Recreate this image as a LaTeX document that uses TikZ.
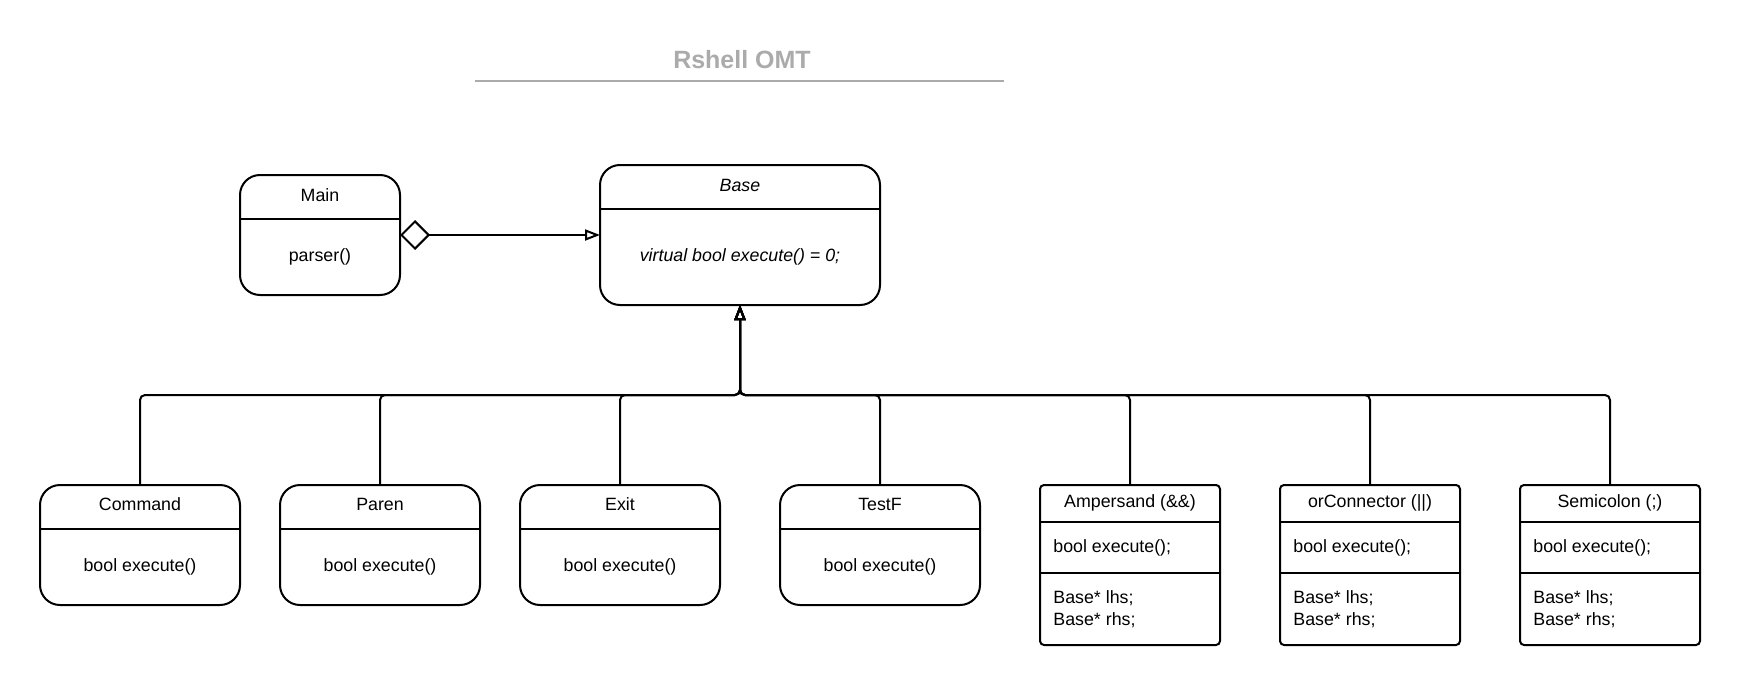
\documentclass[tikz,border=0pt]{standalone}
\usepackage{fontspec}
\setmainfont{Liberation Sans}
\usepackage{xcolor}
\usetikzlibrary{arrows.meta,calc}

\definecolor{titlegray}{HTML}{ABABAB}

\tikzset{
  cls/.style={draw, line width=1pt, rounded corners=10pt, outer sep=0pt, inner sep=0pt},
  sqcls/.style={cls, rounded corners=2pt},
  divider/.style={line width=1pt},
  txt/.style={font=\fontsize{8.9}{11}\selectfont, inner sep=0pt, text height=6.4pt, text depth=0pt},
  memb/.style={font=\fontsize{8.9}{11}\selectfont, inner sep=0pt, align=left, anchor=north west},
  inherit/.style={line width=1pt, rounded corners=2.5pt, -{Triangle[open,length=7.5pt,width=5.5pt]}},
  aggr/.style={line width=1pt, {Diamond[open,length=15pt,width=15pt]}-{Triangle[open,length=7.5pt,width=5.5pt]}},
}

\begin{document}
\begin{tikzpicture}[x=0.5pt,y=0.5pt,yscale=-1]
  \useasboundingbox (0,0) rectangle (1740,685);

  %Title
  \node[font=\bfseries\fontsize{12.5}{14}\selectfont, text=titlegray, inner sep=0pt] (title) at (742,60) {Rshell OMT};
  \draw[titlegray, line width=1pt] (475,81) -- (1004,81);

  %Class: Main
  \node[cls, minimum width=80pt, minimum height=60pt] (main) at (320,235) {};
  \draw[divider] ($(main.north west)+(0,44)$) -- ($(main.north east)+(0,44)$);
  \node[txt] (main-name) at ($(main.north)+(0,20)$) {Main};
  \node[txt] (main-op) at ($(main.north)+(0,80)$) {parser()};

  %Class: Base (abstract)
  \node[cls, minimum width=140pt, minimum height=70pt] (base) at (740,235) {};
  \draw[divider] ($(base.north west)+(0,44)$) -- ($(base.north east)+(0,44)$);
  \node[txt, font=\itshape\fontsize{8.9}{11}\selectfont] (base-name) at ($(base.north)+(0,20)$) {Base};
  \node[txt, font=\itshape\fontsize{8.9}{11}\selectfont] (base-op) at ($(base.north)+(0,90)$) {virtual bool execute() = 0;};

  %Class: Command
  \node[cls, minimum width=100pt, minimum height=60pt] (command) at (140,545) {};
  \draw[divider] ($(command.north west)+(0,44)$) -- ($(command.north east)+(0,44)$);
  \node[txt] (command-name) at ($(command.north)+(0,19)$) {Command};
  \node[txt] (command-op) at ($(command.north)+(0,80)$) {bool execute()};

  %Class: Paren
  \node[cls, minimum width=100pt, minimum height=60pt] (paren) at (380,545) {};
  \draw[divider] ($(paren.north west)+(0,44)$) -- ($(paren.north east)+(0,44)$);
  \node[txt] (paren-name) at ($(paren.north)+(0,19)$) {Paren};
  \node[txt] (paren-op) at ($(paren.north)+(0,80)$) {bool execute()};

  %Class: Exit
  \node[cls, minimum width=100pt, minimum height=60pt] (exit) at (620,545) {};
  \draw[divider] ($(exit.north west)+(0,44)$) -- ($(exit.north east)+(0,44)$);
  \node[txt] (exit-name) at ($(exit.north)+(0,19)$) {Exit};
  \node[txt] (exit-op) at ($(exit.north)+(0,80)$) {bool execute()};

  %Class: TestF
  \node[cls, minimum width=100pt, minimum height=60pt] (testf) at (880,545) {};
  \draw[divider] ($(testf.north west)+(0,44)$) -- ($(testf.north east)+(0,44)$);
  \node[txt] (testf-name) at ($(testf.north)+(0,19)$) {TestF};
  \node[txt] (testf-op) at ($(testf.north)+(0,80)$) {bool execute()};

  %Class: Ampersand
  \node[sqcls, minimum width=90pt, minimum height=80pt] (amp) at (1130,565) {};
  \draw[divider] ($(amp.north west)+(0,37)$) -- ($(amp.north east)+(0,37)$);
  \draw[divider] ($(amp.north west)+(0,88)$) -- ($(amp.north east)+(0,88)$);
  \node[txt] (amp-name) at ($(amp.north)+(0,16)$) {Ampersand (\&\&)};
  \node[txt, anchor=west] (amp-op) at ($(amp.north west)+(13,61)$) {bool execute();};
  \node[memb] (amp-memb) at ($(amp.north west)+(13,105)$) {Base* lhs;\\Base* rhs;};

  %Class: orConnector
  \node[sqcls, minimum width=90pt, minimum height=80pt] (orc) at (1370,565) {};
  \draw[divider] ($(orc.north west)+(0,37)$) -- ($(orc.north east)+(0,37)$);
  \draw[divider] ($(orc.north west)+(0,88)$) -- ($(orc.north east)+(0,88)$);
  \node[txt] (orc-name) at ($(orc.north)+(0,16)$) {orConnector (||)};
  \node[txt, anchor=west] (orc-op) at ($(orc.north west)+(13,61)$) {bool execute();};
  \node[memb] (orc-memb) at ($(orc.north west)+(13,105)$) {Base* lhs;\\Base* rhs;};

  %Class: Semicolon
  \node[sqcls, minimum width=90pt, minimum height=80pt] (semi) at (1610,565) {};
  \draw[divider] ($(semi.north west)+(0,37)$) -- ($(semi.north east)+(0,37)$);
  \draw[divider] ($(semi.north west)+(0,88)$) -- ($(semi.north east)+(0,88)$);
  \node[txt] (semi-name) at ($(semi.north)+(0,16)$) {Semicolon (;)};
  \node[txt, anchor=west] (semi-op) at ($(semi.north west)+(13,61)$) {bool execute();};
  \node[memb] (semi-memb) at ($(semi.north west)+(13,105)$) {Base* lhs;\\Base* rhs;};

  %Aggregation: Main -> Base
  \draw[aggr] (main.east) -- (base.west);

  %Inheritance bus
  \coordinate (bus) at ($(base.south)+(0,90)$);
  \draw[inherit] (command.north) |- (bus) -- (base.south);
  \draw[inherit] (paren.north) |- (bus) -- (base.south);
  \draw[inherit] (exit.north) |- (bus) -- (base.south);
  \draw[inherit] (testf.north) |- (bus) -- (base.south);
  \draw[inherit] (amp.north) |- (bus) -- (base.south);
  \draw[inherit] (orc.north) |- (bus) -- (base.south);
  \draw[inherit] (semi.north) |- (bus) -- (base.south);

\end{tikzpicture}
\end{document}
